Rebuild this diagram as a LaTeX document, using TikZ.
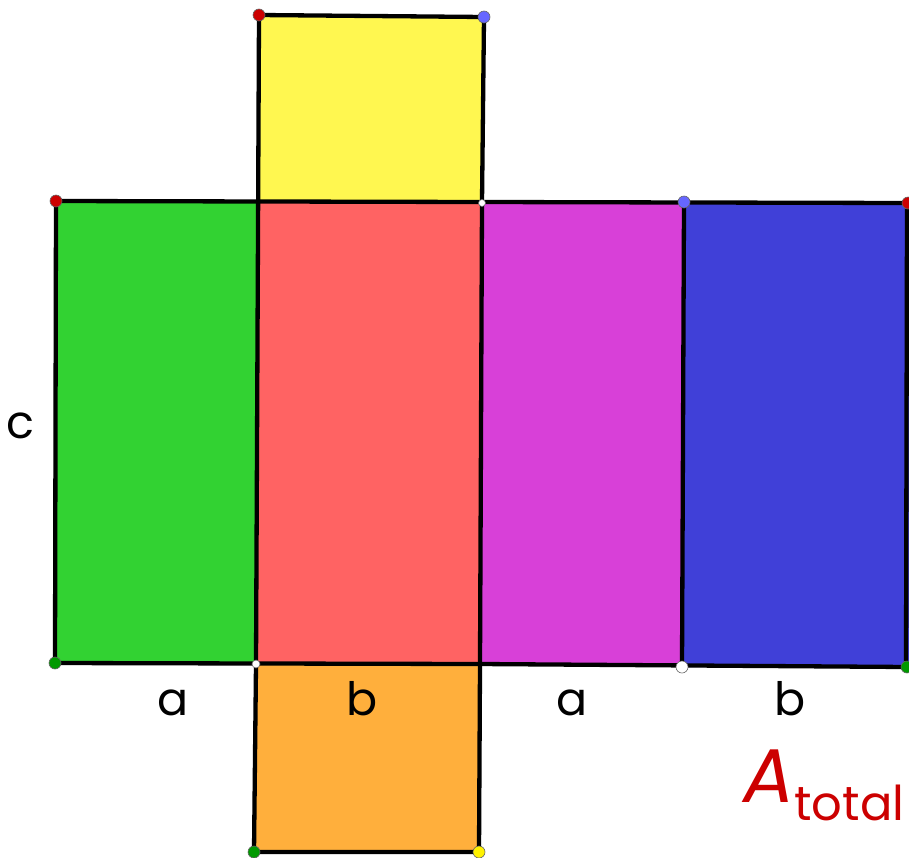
\documentclass[tikz,border=0pt]{standalone}
\usepackage{fontspec}
\setmainfont{Poppins}
\definecolor{cyel}{RGB}{255,247,80}
\definecolor{cgrn}{RGB}{50,210,50}
\definecolor{cred}{RGB}{255,99,99}
\definecolor{cmag}{RGB}{216,64,216}
\definecolor{cblu}{RGB}{64,64,216}
\definecolor{cora}{RGB}{255,175,60}
\definecolor{ctxt}{RGB}{204,0,0}
\begin{document}
\begin{tikzpicture}[x=1pt,y=-1pt,
  face/.style={draw=black,line width=4.3pt,line join=round},
  pt/.style={draw=black!60,line width=0.6pt},
  lbl/.style={font=\fontsize{46}{46}\selectfont,text=black,inner sep=0pt}]
\useasboundingbox (0,0) rectangle (909,857);
% faces
\fill[cyel] (259,15) -- (484,17) -- (482,202) -- (257,200) -- cycle;
\fill[cgrn] (56,201) -- (257,200) -- (256,664) -- (55,663) -- cycle;
\fill[cred] (257,200) -- (482,202) -- (480,664) -- (256,664) -- cycle;
\fill[cmag] (482,202) -- (684,203) -- (682,667) -- (480,664) -- cycle;
\fill[cblu] (684,203) -- (909,203) -- (909,667) -- (682,667) -- cycle;
\fill[cora] (256,664) -- (480,664) -- (479,852) -- (254,852) -- cycle;
% edges
\draw[face] (259,15) -- (484,17) -- (482,202);
\draw[face] (56,201) -- (909,203);
\draw[face] (55,663) -- (480,664) -- (909,667);
\draw[face] (56,201) -- (55,663);
\draw[face] (259,15) -- (256,664) -- (254,852) -- (479,852) -- (480,664) -- (482,202);
\draw[face] (684,203) -- (682,667);
\draw[face] (907,203) -- (906,667);
% vertices
\filldraw[pt,fill=red!80!black] (259,15) circle (6);
\filldraw[pt,fill=blue!60] (484,17) circle (6);
\filldraw[pt,fill=red!80!black] (56,201) circle (6);
\filldraw[pt,fill=white] (482,203) circle (3.5);
\filldraw[pt,fill=blue!60] (684,202) circle (6);
\filldraw[pt,fill=red!80!black] (908,203) circle (6);
\filldraw[pt,fill=green!60!black] (55,663) circle (6);
\filldraw[pt,fill=white] (256,664) circle (4);
\filldraw[pt,fill=white] (682,667) circle (6);
\filldraw[pt,fill=green!60!black] (907,667) circle (6);
\filldraw[pt,fill=green!60!black] (254,852) circle (6);
\filldraw[pt,fill=yellow] (479,852) circle (6);
% labels
\node[lbl] (lc) at (20,426) {c};
\node[lbl,anchor=base] (la1) at (173,715) {a};
\node[lbl,anchor=base] (lb1) at (362,715) {b};
\node[lbl,anchor=base] (la2) at (572,715) {a};
\node[lbl,anchor=base] (lb2) at (790,715) {b};
\node[inner sep=0pt,anchor=base west,text=ctxt] (at) at (743,802)
  {\fontsize{76}{76}\selectfont\itshape A\raisebox{-18pt}{\fontsize{48}{48}\selectfont\upshape total}};
\end{tikzpicture}
\end{document}
